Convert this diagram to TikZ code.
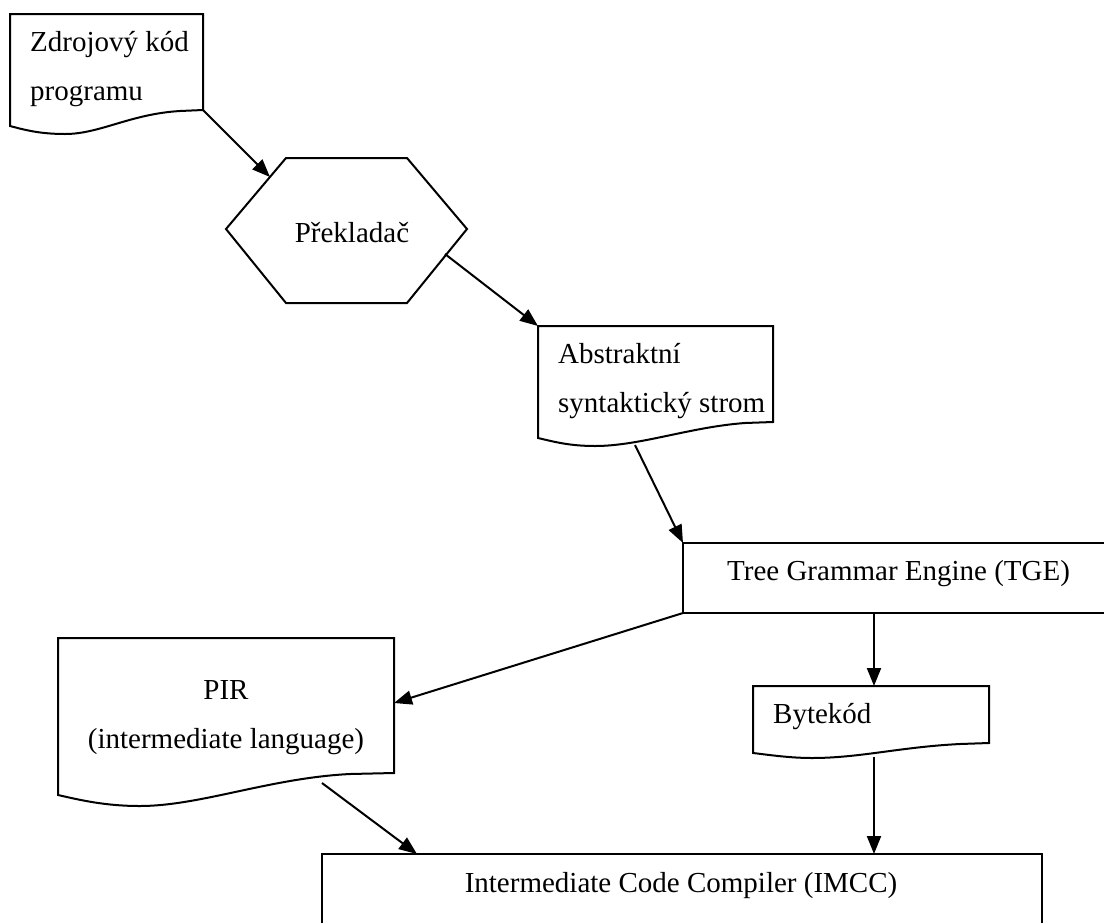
\documentclass[tikz,border=0pt]{standalone}
\usepackage{fontspec}
\setmainfont{Liberation Serif}
\usetikzlibrary{arrows.meta}
\begin{document}
\begin{tikzpicture}[x=1pt,y=-1pt,
  shapeline/.style={draw=black,line width=2pt,line join=miter,fill=white},
  conn/.style={draw=black,line width=2pt,-{Triangle[length=18pt,width=14pt]}},
  lbl/.style={inner sep=0pt,font=\fontsize{29}{48.5}\selectfont,align=left},
  lblc/.style={inner sep=0pt,font=\fontsize{29}{48.5}\selectfont,align=center}]
\clip (0,0) rectangle (1104,922);
\fill[white] (0,0) rectangle (1104,922);

% Document: Zdrojový kód programu
\path[shapeline] (10,14) -- (203,14) -- (203,110) -- (180,111)
  .. controls (130,114) and (100,134) .. (65,134)
  .. controls (40,134) and (25,130) .. (10,126) -- cycle;
\node[lbl,anchor=base west] (src) at (30,100) {Zdrojový kód\\programu};
\coordinate (srcout) at (203,110);

% Hexagon: Překladač
\path[shapeline] (226,229) -- (286,158) -- (407,158) -- (467,229) -- (407,303) -- (286,303) -- cycle;
\node[lblc,anchor=base] (comp) at (352,242) {Překladač};
\coordinate (compin) at (270,177);
\coordinate (compout) at (445,254);

% Document: Abstraktní syntaktický strom
\path[shapeline] (538,326) -- (773,326) -- (773,422) -- (745,423)
  .. controls (690,427) and (640,446) .. (595,446)
  .. controls (570,446) and (555,442) .. (538,438) -- cycle;
\node[lbl,anchor=base west] (ast) at (558,412) {Abstraktní\\syntaktický strom};
\coordinate (astin) at (538,326);
\coordinate (astout) at (635,445);

% Rectangle: TGE
\path[shapeline] (683,543) rectangle (1112,613);
\node[lblc,anchor=base west] (tge) at (727,580) {Tree Grammar Engine (TGE)};
\coordinate (tgein) at (683,543);
\coordinate (tgeoutl) at (683,613);
\coordinate (tgeoutb) at (874,613);

% Document: PIR
\path[shapeline] (58,638) -- (394,638) -- (394,773) -- (350,774)
  .. controls (270,778) and (200,806) .. (140,806)
  .. controls (105,806) and (80,800) .. (58,795) -- cycle;
\node[lblc,anchor=base] (pir) at (226,748) {PIR\\(intermediate language)};
\coordinate (pirin) at (394,703);
\coordinate (pirout) at (322,783);

% Document: Bytekód
\path[shapeline] (753,686) -- (989,686) -- (989,743) -- (960,744)
  .. controls (900,747) and (860,758) .. (812,758)
  .. controls (790,758) and (770,755) .. (753,753) -- cycle;
\node[lbl,anchor=base west] (byte) at (773,723) {Bytekód};
\coordinate (bytein) at (874,686);
\coordinate (byteout) at (874,757);

% Rectangle: IMCC
\path[shapeline] (322,854) rectangle (1042,930);
\node[lblc,anchor=base] (imcc) at (681,892) {Intermediate Code Compiler (IMCC)};
\coordinate (imccinl) at (417,854);
\coordinate (imccinr) at (874,854);

% Connectors
\draw[conn] (srcout) -- (compin);
\draw[conn] (compout) -- (astin);
\draw[conn] (astout) -- (tgein);
\draw[conn] (tgeoutl) -- (pirin);
\draw[conn] (tgeoutb) -- (bytein);
\draw[conn] (byteout) -- (imccinr);
\draw[conn] (pirout) -- (imccinl);
\end{tikzpicture}
\end{document}
